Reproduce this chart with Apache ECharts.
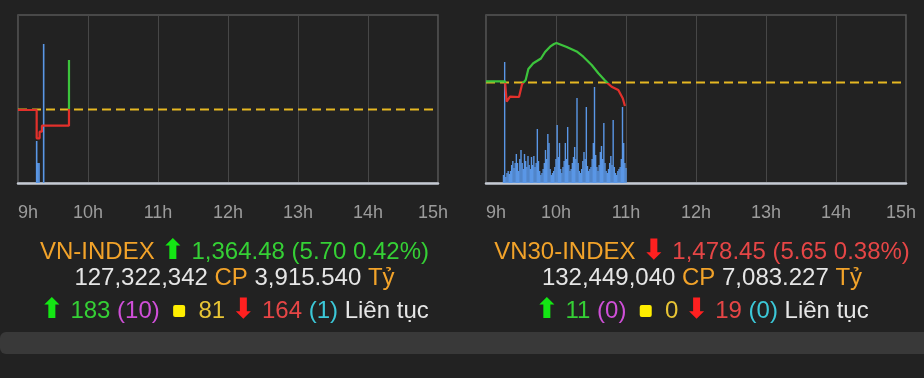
<!DOCTYPE html>
<html>
<head>
<meta charset="utf-8">
<script src="https://cdn.jsdelivr.net/npm/echarts@6/dist/echarts.min.js"></script>
<style>
  html, body { margin: 0; padding: 0; background: #222; }
  #chart { width: 924px; height: 378px; }
</style>
</head>
<body>
<div id="chart"></div>
<script>
// trục giờ (phút tính từ 9h)
const hourLabels = ['9h', '10h', '11h', '12h', '13h', '14h', '15h']

// VN-INDEX
const vnRef = 1358.78
const vnTimes = [0, 16, 18.5, 20.5, 43.7]
const vnPrices = [1358.72, 1355.46, 1356.22, 1356.91, 1364.48]
const vnVolTimes = [16, 17, 18, 22]
const vnVols = [42, 20, 20, 139]

// VN30-INDEX
const vn30Ref = 1484.10
const vn30Times = [0, 16.3, 17.7, 18.9, 20.6, 28.3, 30.9, 32.6, 34, 36.3, 40.5, 47.1, 50.6, 54.9, 58.3, 60.4, 62,
  69.2, 77.7, 83.4, 90.6, 96.3, 102, 104, 107.7, 113.4, 117.2, 119.1]
const vn30Prices = [1484.40, 1484.40, 1479.49, 1479.90, 1480.69, 1480.62, 1483.67, 1483.95, 1484.70, 1487.35,
  1488.72, 1489.87, 1491.44, 1492.71, 1493.36, 1493.60, 1493.48, 1492.64, 1491.56, 1490.31, 1488.31, 1486.32,
  1484.58, 1484.03, 1483.09, 1482.30, 1480.31, 1478.45]
const vn30VolStart = 15
const vn30Vols = [8, 121, 6, 10, 12, 9, 12, 18, 22, 15, 20, 29, 20, 12, 24, 33, 20, 14, 29, 22, 16, 27, 18, 14, 26,
  18, 27, 16, 20, 54, 22, 12, 8, 10, 14, 20, 33, 24, 49, 40, 14, 8, 10, 12, 16, 24, 58, 26, 40, 14, 10, 16, 22, 40,
  24, 56, 18, 12, 14, 20, 26, 36, 24, 85, 20, 12, 10, 14, 22, 31, 24, 76, 17, 12, 14, 16, 24, 40, 96, 28, 16, 12,
  18, 31, 37, 24, 60, 20, 12, 10, 14, 20, 27, 18, 63, 16, 10, 8, 12, 14, 16, 24, 76, 40, 20, 15]

// bảng chữ bên dưới
const indexNames = ['VN-INDEX', 'VN30-INDEX']
const closes = ['1,364.48', '1,478.45']
const changes = ['5.70', '5.65']
const pcts = ['0.42%', '0.38%']
const isUp = [true, false]
const shares = ['127,322,342', '132,449,040']
const values = ['3,915.540', '7,083.227']
const ups = [183, 11]
const ceils = [10, 0]
const sames = [81, 0]
const downs = [164, 19]
const floors = [1, 0]

const GREEN = '#3cc43c'
const RED = '#e3302b'
const FONT = 'Liberation Sans, Arial, sans-serif'
const FS = 24

const chart = echarts.init(document.getElementById('chart'))

// graphic text dùng "fill" chứ không phải "color"
const rich = (() => {
  const f = (fill, extra) => Object.assign({ fill, fontSize: FS, fontFamily: FONT }, extra || {})
  return {
    o: f('#f2a32a'),
    g: f('#35d035'),
    r: f('#e64646'),
    w: f('#e6e6e6'),
    m: f('#cf4fd8'),
    y: f('#e8c535'),
    c: f('#3cc8d8'),
    ua: f('#14e614', { fontFamily: 'DejaVu Sans', fontWeight: 'bold', fontSize: 28 }),
    da: f('#ff2020', { fontFamily: 'DejaVu Sans', fontWeight: 'bold', fontSize: 28 }),
    sq: { backgroundColor: '#ffee00', width: 12, height: 12, borderRadius: 2, fontSize: 4 }
  }
})()

function xAxisFor(gridIndex) {
  return {
    gridIndex,
    type: 'value',
    min: 0,
    max: 360,
    interval: 60,
    axisLine: { show: true, onZero: false, lineStyle: { color: '#c5cad3', width: 2.5 } },
    axisTick: { show: false },
    splitLine: { show: true, lineStyle: { color: '#474747', width: 1 } },
    axisLabel: {
      color: '#9c9c9c',
      fontSize: 18,
      fontFamily: FONT,
      margin: 21,
      alignMinLabel: 'left',
      formatter: (v) => {
        const i = Math.round(v / 60)
        return i === 6 ? '{last|' + hourLabels[i] + '}' : hourLabels[i]
      },
      rich: { last: { color: '#9c9c9c', fontSize: 18, fontFamily: FONT, padding: [0, 10, 0, 0] } }
    }
  }
}

function textRows(i, cx) {
  const cls = isUp[i] ? 'g' : 'r'
  const arrow = isUp[i] ? '{ua|⬆}' : '{da|⬇}'
  const rows = [
    `{o|${indexNames[i]}} ${arrow} {${cls}|${closes[i]} (${changes[i]} ${pcts[i]})}`,
    `{w|${shares[i]}} {o|CP} {w|${values[i]}} {o|Tỷ}`,
    `{ua|⬆} {g|${ups[i]}} {m|(${ceils[i]})}  {sq| }  {y|${sames[i]}} {da|⬇} {r|${downs[i]}} {c|(${floors[i]})} {w|Liên tục}`
  ]
  const ys = [252, 278, 311]
  return rows.map((t, k) => ({
    type: 'text',
    x: cx,
    y: ys[k],
    style: { text: t, rich, align: 'center', verticalAlign: 'middle', fontSize: FS, fontFamily: FONT, fill: '#e6e6e6' }
  }))
}

const option = {
  backgroundColor: '#222',
  animation: false,
  grid: [
    { left: 18, top: 15, width: 420, height: 168, show: true, borderColor: '#575757', borderWidth: 1.5 },
    { left: 486, top: 15, width: 420, height: 168, show: true, borderColor: '#575757', borderWidth: 1.5 }
  ],
  xAxis: [xAxisFor(0), xAxisFor(1)],
  yAxis: [
    { gridIndex: 0, type: 'value', min: 1350.31, max: 1369.66, show: false, splitLine: { show: false } },
    { gridIndex: 0, type: 'value', min: 0, max: 168, show: false, splitLine: { show: false } },
    { gridIndex: 1, type: 'value', min: 1459.95, max: 1500.33, show: false, splitLine: { show: false } },
    { gridIndex: 1, type: 'value', min: 0, max: 168, show: false, splitLine: { show: false } }
  ],
  visualMap: [
    { type: 'piecewise', show: false, seriesIndex: 2, dimension: 1,
      pieces: [{ gt: vnRef, lte: vnRef + 100, color: GREEN }, { gt: vnRef - 100, lte: vnRef, color: RED }] },
    { type: 'piecewise', show: false, seriesIndex: 5, dimension: 1,
      pieces: [{ gt: vn30Ref, lte: vn30Ref + 100, color: GREEN }, { gt: vn30Ref - 100, lte: vn30Ref, color: RED }] }
  ],
  series: [
    {
      type: 'bar', xAxisIndex: 0, yAxisIndex: 1, barWidth: 1.6,
      itemStyle: { color: '#5a97e6' },
      data: vnVolTimes.map((t, i) => [t, vnVols[i]])
    },
    {
      type: 'line', xAxisIndex: 0, yAxisIndex: 0, symbol: 'none', silent: true,
      lineStyle: { color: '#e6b822', width: 2, type: [9, 5] },
      data: [[0, vnRef], [360, vnRef]]
    },
    {
      type: 'line', xAxisIndex: 0, yAxisIndex: 0, showSymbol: false, step: 'end',
      lineStyle: { width: 2.2 },
      data: vnTimes.map((t, i) => [t, vnPrices[i]])
    },
    {
      type: 'bar', xAxisIndex: 1, yAxisIndex: 3, barWidth: 1.4,
      itemStyle: { color: '#5a97e6' },
      data: vn30Vols.map((v, i) => [vn30VolStart + i, v])
    },
    {
      type: 'line', xAxisIndex: 1, yAxisIndex: 2, symbol: 'none', silent: true,
      lineStyle: { color: '#e6b822', width: 2, type: [9, 5] },
      data: [[0, vn30Ref], [360, vn30Ref]]
    },
    {
      type: 'line', xAxisIndex: 1, yAxisIndex: 2, showSymbol: false,
      lineStyle: { width: 2.2 },
      data: vn30Times.map((t, i) => [t, vn30Prices[i]])
    }
  ],
  graphic: [
    { type: 'rect', shape: { x: 0, y: 332, width: 940, height: 22, r: 6 }, style: { fill: '#393939' } },
    ...textRows(0, 234.5),
    ...textRows(1, 702)
  ]
}

chart.setOption(option)
</script>
</body>
</html>
